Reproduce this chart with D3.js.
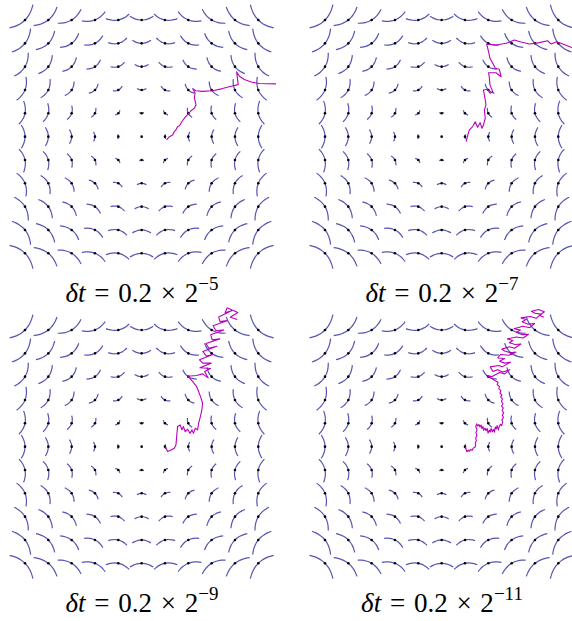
<!DOCTYPE html>
<html>
<head>
<meta charset="utf-8">
<script src="https://cdn.jsdelivr.net/npm/d3@7"></script>
<style>
body { margin: 0; background: #fff; }
</style>
</head>
<body>
<script>
//global settings
var w = 572;
var h = 621;

// grid of the field (data units)
var gridValues = [-5, -4, -3, -2, -1, 0, 1, 2, 3, 4, 5];
// parameter along each little arc
var arcSteps = [-0.1, -0.075, -0.05, -0.025, 0, 0.025, 0.05, 0.075, 0.1];
var bend = 3.2;

// step size exponents, one per panel
var exponents = [-5, -7, -9, -11];
var panelX = [0, 300, 0, 300];
var panelY = [0, 0, 310, 310];

// sample paths (data units)
var path5 = [[1.07,-0.14],[1.19,0.00],[1.33,0.07],[1.40,0.22],[1.47,0.29],[1.54,0.43],[1.62,0.47],
	[1.73,0.65],[1.83,0.79],[1.97,0.94],[2.12,1.11],[2.26,1.22],[2.33,1.37],[2.26,1.66],[2.29,1.87],
	[2.19,2.06],[2.33,1.97],[2.61,1.94],[3.04,1.97],[3.47,2.06],[3.83,2.16],[4.14,2.23],[4.07,2.78],
	[4.19,2.59],[4.40,2.45],[4.69,2.34],[5.04,2.28],[5.76,2.26]];

var path7 = [[1.05,-0.21],[1.11,0.03],[1.19,0.29],[1.33,0.43],[1.44,0.64],[1.54,0.40],[1.65,0.60],
	[1.73,0.36],[1.79,0.50],[1.87,0.79],[1.83,1.14],[1.90,1.36],[1.87,1.57],[1.79,2.00],[1.97,2.03],
	[2.07,1.86],[2.19,1.93],[2.07,2.22],[2.04,2.57],[2.01,2.74],[2.33,2.74],[2.55,2.57],[2.47,2.89],
	[2.30,2.93],[2.19,3.15],[2.07,3.36],[2.01,3.64],[1.93,3.97],[2.33,3.93],[2.76,4.00],[3.12,4.14],
	[3.40,4.06],[3.76,3.97],[4.19,4.03],[4.54,4.11],[4.69,3.97],[4.93,4.07],[5.19,3.97],[5.55,3.83],
	[6.00,3.70]];

var path9 = [[1.02,0.00],[1.11,-0.21],[1.26,-0.14],[1.40,-0.07],[1.47,0.07],[1.50,0.43],[1.54,0.86],
	[1.65,0.93],[1.73,0.72],[1.79,0.86],[1.87,0.64],[1.97,0.75],[2.07,0.57],[2.16,0.72],[2.22,0.57],
	[2.30,0.79],[2.40,0.72],[2.44,1.00],[2.50,1.22],[2.55,1.43],[2.59,1.65],[2.61,1.86],[2.55,2.07],
	[2.47,2.29],[2.36,2.57],[2.19,2.79],
	[1.98,3.02],[2.35,3.05],[2.62,3.12],[2.85,2.95],[2.70,3.22],[2.95,3.35],[2.50,3.38],[2.98,3.58],
	[2.62,3.58],[2.48,3.72],[3.05,3.95],[2.78,3.88],[2.62,4.08],[3.22,4.30],[2.88,4.22],[2.76,4.42],
	[3.35,4.62],[3.02,4.58],[2.96,4.80],[3.52,5.00],[3.18,4.98],[3.06,5.18],[3.66,5.40],[3.36,5.36],
	[3.30,5.56],[3.85,5.82],[3.58,5.74],[3.66,5.95],[4.12,5.75],[3.80,5.55],[4.10,5.45]];

var path11 = [[1.02,0.00],[1.05,-0.12],[1.08,-0.22],[1.14,-0.15],[1.18,-0.20],[1.24,-0.12],[1.30,-0.16],
	[1.36,-0.06],[1.42,-0.04],[1.46,0.06],[1.44,0.16],[1.49,0.26],[1.46,0.36],[1.51,0.48],[1.47,0.60],
	[1.52,0.72],[1.46,0.85],[1.50,0.98],[1.55,0.88],[1.60,0.95],[1.64,0.84],[1.69,0.93],[1.72,0.78],
	[1.77,0.86],[1.80,0.70],[1.86,0.80],[1.90,0.68],[1.95,0.78],[1.99,0.58],[2.04,0.70],[2.08,0.62],
	[2.12,0.78],[2.17,0.64],[2.22,0.74],[2.26,0.62],[2.30,0.84],[2.34,0.76],[2.38,0.90],[2.43,0.72],
	[2.47,0.86],[2.52,0.96],[2.57,0.90],[2.62,1.06],[2.58,1.15],[2.65,1.25],[2.60,1.35],[2.66,1.45],
	[2.59,1.55],[2.64,1.65],[2.57,1.74],[2.63,1.84],[2.56,1.94],[2.61,2.04],[2.53,2.12],[2.58,2.22],
	[2.50,2.30],[2.54,2.40],[2.45,2.48],[2.48,2.58],[2.38,2.66],[2.42,2.76],[2.30,2.82],
	[2.05,2.98],[1.92,3.05],[2.15,3.00],[2.48,3.18],[2.70,3.12],[2.92,3.30],[2.62,3.20],
	[2.40,3.30],[2.20,3.22],[2.08,3.42],[2.45,3.48],[2.60,3.42],[2.95,3.62],[2.70,3.58],[2.48,3.66],
	[2.70,3.78],[2.40,3.80],[2.52,3.95],[2.88,3.92],[3.18,4.05],[2.96,4.02],[2.70,4.10],[2.58,4.18],
	[2.92,4.28],[3.12,4.22],[3.40,4.40],[3.15,4.38],[2.90,4.45],[3.05,4.55],[2.82,4.62],[3.20,4.70],
	[3.50,4.66],[3.72,4.82],[3.45,4.80],[3.20,4.90],[3.38,5.00],[3.10,5.05],[3.48,5.16],[3.78,5.10],
	[3.98,5.28],[3.70,5.25],[3.45,5.35],[3.62,5.45],[3.40,5.52],[3.80,5.58],[4.05,5.50],[4.25,5.68],
	[4.00,5.72],[3.85,5.80],[4.15,5.88],[4.40,5.78],[4.20,5.62],[4.38,5.55]];

var paths = [path5, path7, path9, path11];

var svg = d3.select("body")
	.append("svg")
	.attr("width", w)
	.attr("height", h)
	.style("background", "#fff");

function plot(k)
{
	var ox = panelX[k];
	var oy = panelY[k];

	var x_scale = d3.scaleLinear()
		.domain([-5, 5])
		.range([ox + 25, ox + 258.3]);
	var y_scale = d3.scaleLinear()
		.domain([-5, 5])
		.range([oy + 253.3, oy + 20]);

	var g = svg.append("g");

	var points = [];
	gridValues.forEach(function(gy) {
		gridValues.forEach(function(gx) {
			points.push([gx, gy]);
		});
	});

	var line = d3.line()
		.x(function(d) { return x_scale(d[0]); })
		.y(function(d) { return y_scale(d[1]); })
		.curve(d3.curveCatmullRom);

	// little arcs of the field
	g.selectAll("path.arc")
		.data(points)
		.enter()
		.append("path")
		.attr("class", "arc")
		.attr("d", function(p) {
			var pts = arcSteps.map(function(s) {
				return [p[0] - s * p[1] + bend * s * s * p[0],
				        p[1] + s * p[0] + bend * s * s * p[1]];
			});
			return line(pts);
		})
		.attr("fill", "none")
		.attr("stroke", "#5656b2")
		.attr("stroke-width", 1.2);

	g.selectAll("circle")
		.data(points)
		.enter()
		.append("circle")
		.attr("cx", function(d) { return x_scale(d[0]); })
		.attr("cy", function(d) { return y_scale(d[1]); })
		.attr("r", 1.3)
		.attr("fill", "black");

	// the sample path
	g.append("path")
		.datum(paths[k])
		.attr("d", d3.line()
			.x(function(d) { return x_scale(d[0]); })
			.y(function(d) { return y_scale(d[1]); }))
		.attr("fill", "none")
		.attr("stroke", "#bb00bb")
		.attr("stroke-width", 1.1)
		.attr("stroke-linejoin", "round");

	// label
	var label = g.append("text")
		.attr("x", ox + 142)
		.attr("y", oy + 302)
		.attr("text-anchor", "middle")
		.style("font-family", "'Liberation Serif', 'DejaVu Serif', serif")
		.style("font-size", "27px")
		.style("word-spacing", "2px")
		.style("white-space", "pre");
	label.append("tspan").style("font-style", "italic").text("\u03b4t");
	label.append("tspan").text(" = 0.2 \u00d7 2");
	label.append("tspan")
		.attr("dy", -12)
		.style("font-size", "19px")
		.text("\u2212" + Math.abs(exponents[k]));
}

for (var k = 0; k < 4; k++) {
	plot(k);
}
</script>
</body>
</html>
